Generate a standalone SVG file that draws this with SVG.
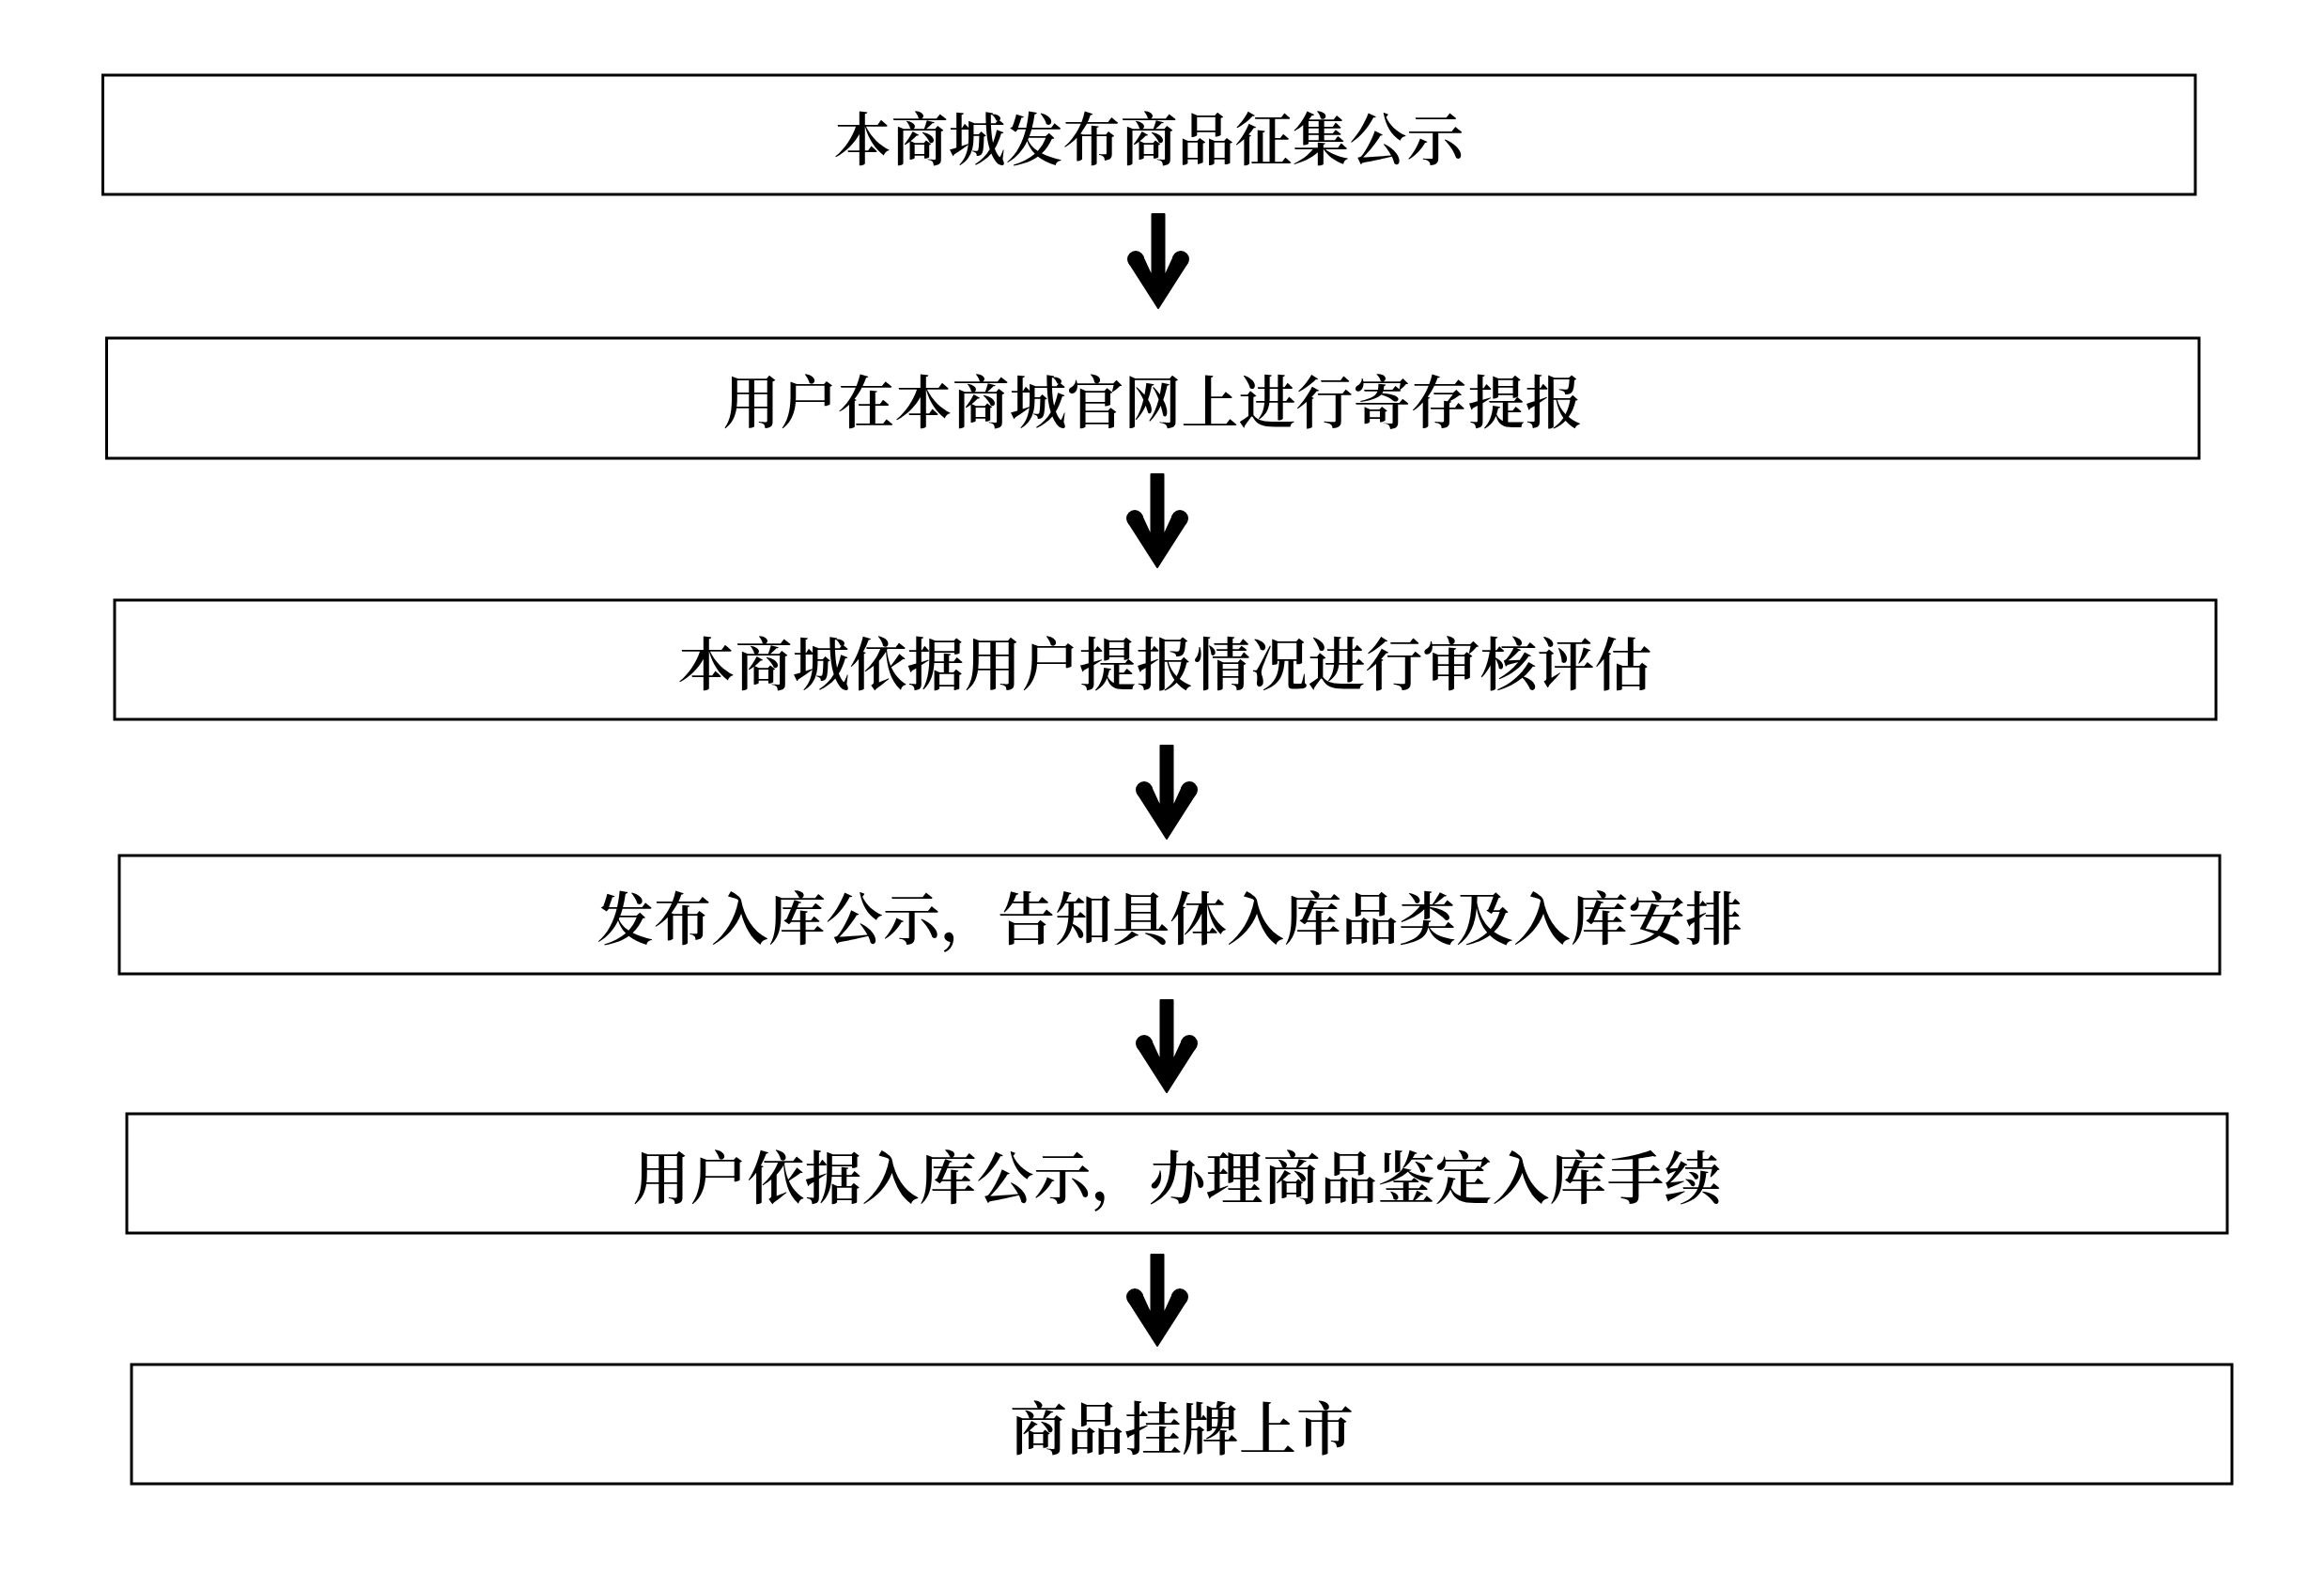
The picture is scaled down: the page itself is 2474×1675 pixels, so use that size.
<svg xmlns="http://www.w3.org/2000/svg" width="2474" height="1675" viewBox="0 0 2474 1675">
<style>
.box{fill:#ffffff;stroke:#000000;stroke-width:3}
.lbl{font-family:"Liberation Serif","Noto Serif CJK SC","Noto Sans CJK SC",serif;font-size:61px;font-weight:600;fill:#000000;text-anchor:middle}
.arr{fill:#000000;stroke:#000000;stroke-width:2;stroke-linejoin:round}
</style>
<rect width="2474" height="1675" fill="#ffffff"/>
<g id="node1"><rect class="box" x="109.5" y="80" width="2227.5" height="127"/><text class="lbl" x="1223" y="171">本商城发布商品征集公示</text></g>
<g id="node2"><rect class="box" x="113.5" y="360" width="2227.5" height="128"/><text class="lbl" x="1227" y="451">用户在本商城官网上进行寄存提报</text></g>
<g id="node3"><rect class="box" x="122" y="639" width="2237" height="127"/><text class="lbl" x="1240" y="730">本商城依据用户提报情况进行审核评估</text></g>
<g id="node4"><rect class="box" x="127" y="911" width="2236" height="126"/><text class="lbl" x="1245" y="1001">发布入库公示，告知具体入库品类及入库安排</text></g>
<g id="node5"><rect class="box" x="135" y="1186" width="2236" height="127"/><text class="lbl" x="1253" y="1277">用户依据入库公示，办理商品鉴定入库手续</text></g>
<g id="node6"><rect class="box" x="140" y="1453" width="2236" height="127"/><text class="lbl" x="1258" y="1544">商品挂牌上市</text></g>
<g id="connectors">
<g class="arr"><path d="M1226.5,228 L1239.5,228 L1239.5,295.4 L1250,272.6 L1264,279.4 L1233,328 L1202,279.4 L1216,272.6 L1226.5,295.4 Z"/><circle cx="1209" cy="276" r="8"/><circle cx="1257" cy="276" r="8"/></g>
<g class="arr"><path d="M1225.5,505 L1238.5,505 L1238.5,571.4 L1249,548.6 L1263,555.4 L1232,604 L1201,555.4 L1215,548.6 L1225.5,571.4 Z"/><circle cx="1208" cy="552" r="8"/><circle cx="1256" cy="552" r="8"/></g>
<g class="arr"><path d="M1235.5,794 L1248.5,794 L1248.5,860.4 L1259,837.6 L1273,844.4 L1242,893 L1211,844.4 L1225,837.6 L1235.5,860.4 Z"/><circle cx="1218" cy="841" r="8"/><circle cx="1266" cy="841" r="8"/></g>
<g class="arr"><path d="M1235.5,1065 L1248.5,1065 L1248.5,1130.4 L1259,1107.6 L1273,1114.4 L1242,1163 L1211,1114.4 L1225,1107.6 L1235.5,1130.4 Z"/><circle cx="1218" cy="1111" r="8"/><circle cx="1266" cy="1111" r="8"/></g>
<g class="arr"><path d="M1225.5,1336 L1238.5,1336 L1238.5,1400.4 L1249,1377.6 L1263,1384.4 L1232,1433 L1201,1384.4 L1215,1377.6 L1225.5,1400.4 Z"/><circle cx="1208" cy="1381" r="8"/><circle cx="1256" cy="1381" r="8"/></g>
</g>
</svg>
